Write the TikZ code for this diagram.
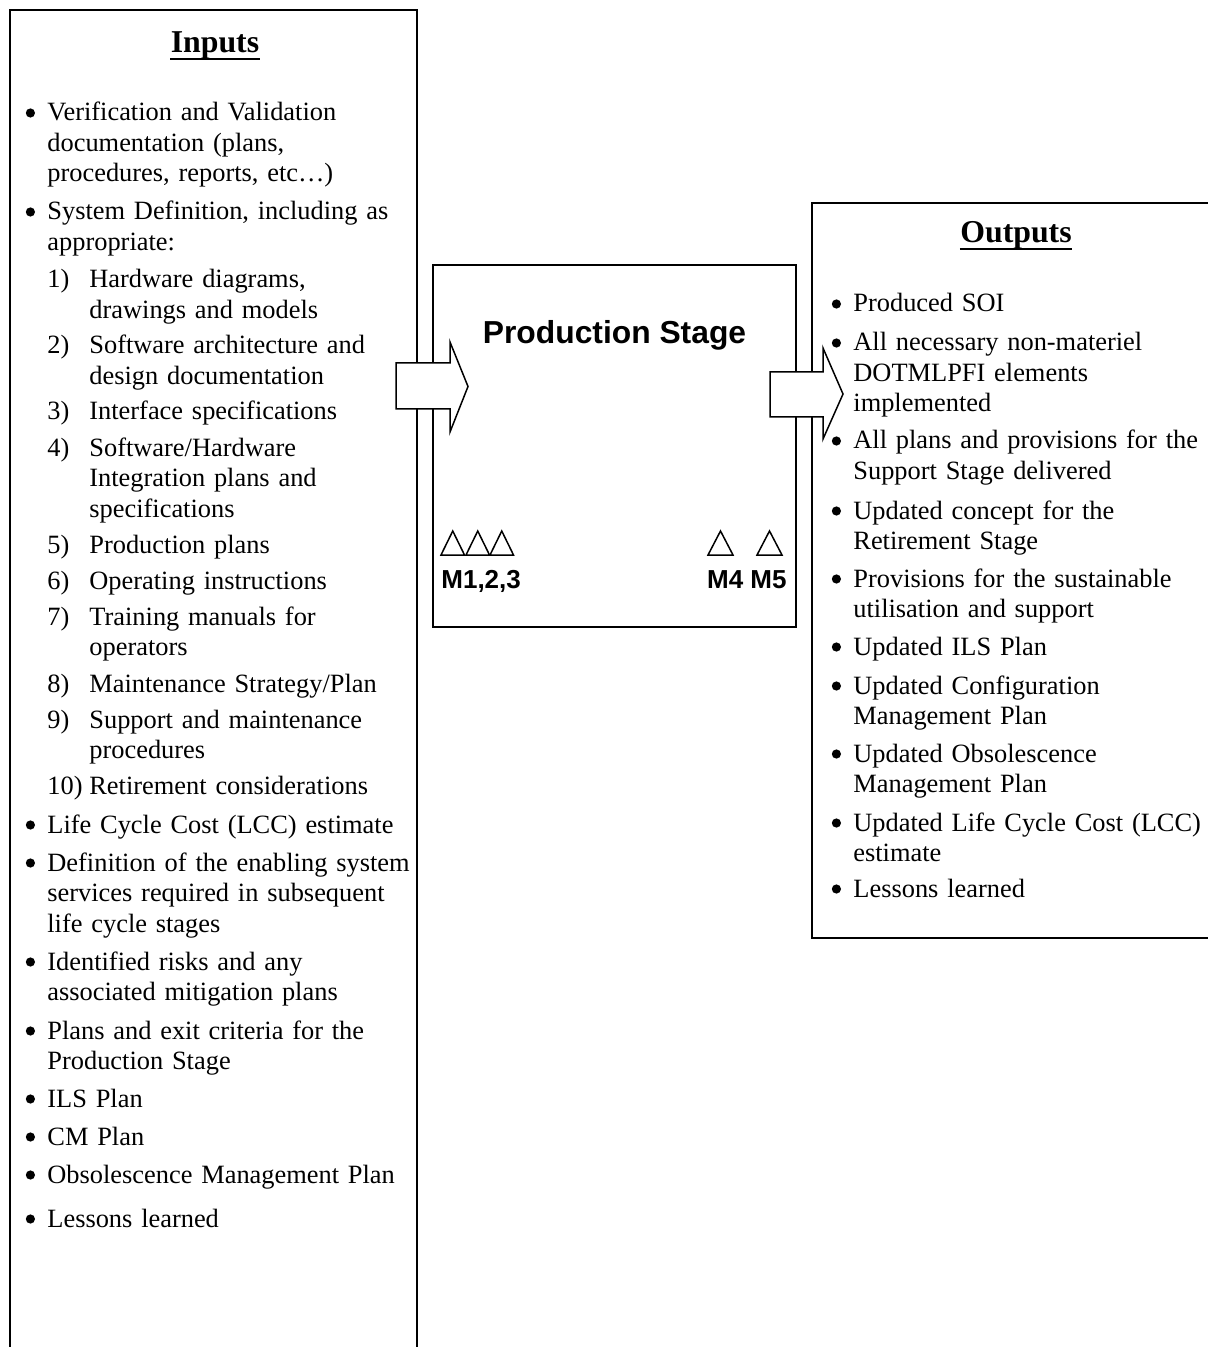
\documentclass[tikz,border=0pt]{standalone}
\usepackage{fontspec}
\setmainfont{Liberation Serif}
\newfontfamily\arialfont{Liberation Sans}
\begin{document}
\begin{tikzpicture}[x=0.5pt,y=-0.5pt,
  frame/.style={line width=1pt},
  stagebox/.style={line width=0.75pt},
  blockarrow/.style={line width=0.75pt, fill=white, line join=miter},
  milestone/.style={line width=0.75pt, line join=miter},
  heading/.style={font=\fontsize{15.9}{18}\selectfont\bfseries, anchor=base, inner sep=0pt},
  body/.style={font=\fontsize{13.2}{15.25}\selectfont, anchor=base west, inner sep=0pt,
               text width=185pt, align=left},
  stagetitle/.style={font=\arialfont\bfseries\fontsize{15.9}{18}\selectfont, anchor=base, inner sep=0pt},
  mlabel/.style={font=\arialfont\bfseries\fontsize{13}{15}\selectfont, inner sep=0pt}]
% bullet mark and list number, hung to the left of the item text
\newcommand{\bul}{\llap{\makebox[17pt]{\tikz[baseline=0pt]{\fill (0pt,4pt) circle[radius=2.3pt];}}}}
\newcommand{\num}[1]{\llap{\makebox[21pt][l]{#1}}}

\useasboundingbox (0,0) rectangle (1208,1347);

% --- frames ---------------------------------------------------------------
\draw[frame] (10,1360) -- (10,10) -- (417,10) -- (417,1360);
\draw[frame] (1220,203) -- (812,203) -- (812,938) -- (1220,938);
\draw[stagebox] (433,265) rectangle (796,627);

% --- block arrows ---------------------------------------------------------
\draw[blockarrow] (396,363) -- (450,363) -- (450,342) -- (468,386.5)
  -- (450,432) -- (450,409) -- (396,409) -- cycle;
\draw[blockarrow] (770,372) -- (823,372) -- (823,348) -- (843,394)
  -- (823,439) -- (823,417) -- (770,417) -- cycle;

% --- stage box contents ---------------------------------------------------
\node[stagetitle] (stage) at (614.5,344) {Production Stage};
\foreach \a in {441,466,490}
  \draw[milestone] (\a,555) -- ++(11.75,-24) -- ++(11.75,24) -- cycle;
\foreach \a in {708,757}
  \draw[milestone] (\a,555) -- ++(12.5,-24) -- ++(12.5,24) -- cycle;
\node[mlabel, anchor=base west] (m123) at (441,588) {M1,2,3};
\node[mlabel, anchor=base east] (m45) at (787,588) {M4 M5};

% --- inputs ---------------------------------------------------------------
\node[heading] (inhead) at (215,53) {Inputs};
\draw[line width=1.25pt] ([yshift=-3pt]inhead.base west) -- ([yshift=-3pt]inhead.base east);

\node[body] (i1) at (47,121) {\bul Verification and Validation\\documentation (plans,\\procedures, reports, etc…)};
\node[body] (i2) at (47,220) {\bul System Definition, including as\\appropriate:};
\node[body] (n1) at (89,288) {\num{1)}Hardware diagrams,\\drawings and models};
\node[body] (n2) at (89,354) {\num{2)}Software architecture and\\design documentation};
\node[body] (n3) at (89,420) {\num{3)}Interface specifications};
\node[body] (n4) at (89,456) {\num{4)}Software/Hardware\\Integration plans and\\specifications};
\node[body] (n5) at (89,553) {\num{5)}Production plans};
\node[body] (n6) at (89,589) {\num{6)}Operating instructions};
\node[body] (n7) at (89,625) {\num{7)}Training manuals for\\operators};
\node[body] (n8) at (89,692) {\num{8)}Maintenance Strategy/Plan};
\node[body] (n9) at (89,728) {\num{9)}Support and maintenance\\procedures};
\node[body] (n10) at (89,794) {\num{10)}Retirement considerations};
\node[body] (i3) at (47,833) {\bul Life Cycle Cost (LCC) estimate};
\node[body] (i4) at (47,871) {\bul Definition of the enabling system\\services required in subsequent\\life cycle stages};
\node[body] (i5) at (47,970) {\bul Identified risks and any\\associated mitigation plans};
\node[body] (i6) at (47,1039) {\bul Plans and exit criteria for the\\Production Stage};
\node[body] (i7) at (47,1107) {\bul ILS Plan};
\node[body] (i8) at (47,1145) {\bul CM Plan};
\node[body] (i9) at (47,1183) {\bul Obsolescence Management Plan};
\node[body] (i10) at (47,1227) {\bul Lessons learned};

% --- outputs --------------------------------------------------------------
\node[heading] (outhead) at (1016,243) {Outputs};
\draw[line width=1.25pt] ([yshift=-3pt]outhead.base west) -- ([yshift=-3pt]outhead.base east);

\node[body] (o1) at (853,312) {\bul Produced SOI};
\node[body] (o2) at (853,351) {\bul All necessary non-materiel\\DOTMLPFI elements\\implemented};
\node[body] (o3) at (853,449) {\bul All plans and provisions for the\\Support Stage delivered};
\node[body] (o4) at (853,519) {\bul Updated concept for the\\Retirement Stage};
\node[body] (o5) at (853,587) {\bul Provisions for the sustainable\\utilisation and support};
\node[body] (o6) at (853,655) {\bul Updated ILS Plan};
\node[body] (o7) at (853,694) {\bul Updated Configuration\\Management Plan};
\node[body] (o8) at (853,762) {\bul Updated Obsolescence\\Management Plan};
\node[body] (o9) at (853,831) {\bul Updated Life Cycle Cost (LCC)\\estimate};
\node[body] (o10) at (853,897) {\bul Lessons learned};
\end{tikzpicture}
\end{document}
